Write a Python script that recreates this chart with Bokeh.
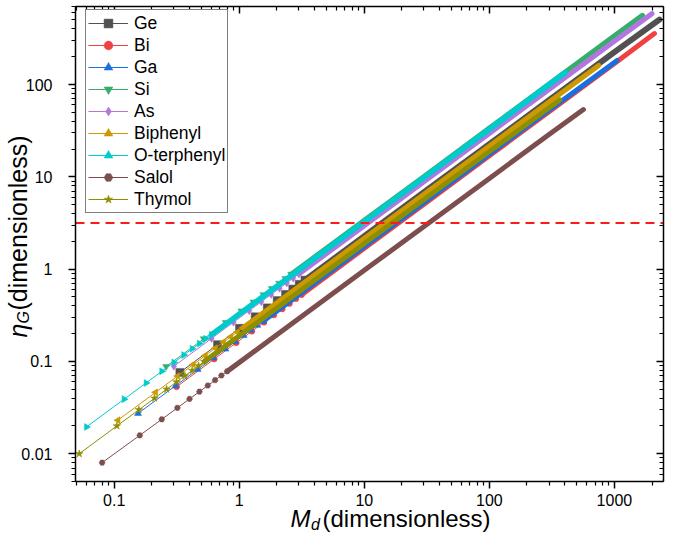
import math
from bokeh.plotting import figure
from bokeh.models import (LogAxis, FixedTicker, CustomJSTickFormatter, Label,
                          Legend, LegendItem, Range1d)
from bokeh.embed import file_html
from bokeh.resources import INLINE

# ---------------- data ----------------
series_names = ["Ge", "Bi", "Ga", "Si", "As", "Biphenyl", "O-terphenyl", "Salol", "Thymol"]

md_ge = [0.335, 0.67, 1.005, 1.34, 1.675, 2.01, 2.345, 2.68, 3.015, 3.35, 10, 30, 100, 300, 1000, 2290]
eta_ge = [0.076, 0.152, 0.228, 0.304, 0.380, 0.456, 0.532, 0.608, 0.684, 0.760, 2.27, 6.8, 22.6, 67.5, 224, 505]

md_bi = [0.315, 0.63, 0.945, 1.26, 1.575, 1.89, 2.205, 2.52, 2.835, 3.15, 10, 30, 100, 300, 1000, 2090]
eta_bi = [0.053, 0.106, 0.159, 0.212, 0.265, 0.318, 0.370, 0.423, 0.476, 0.529, 1.68, 5.05, 16.9, 50.7, 169, 356]

md_ga = [0.155, 0.31, 0.465, 0.62, 0.775, 0.93, 1.085, 1.24, 1.395, 1.55, 10, 30, 100, 300, 1050]
eta_ga = [0.0273, 0.0546, 0.0818, 0.109, 0.136, 0.164, 0.191, 0.218, 0.246, 0.273, 1.76, 5.28, 17.6, 52.5, 182]

md_si = [0.26, 0.52, 0.78, 1.04, 1.3, 1.56, 1.82, 2.08, 2.34, 2.6, 10, 30, 100, 300, 1000, 1675]
eta_si = [0.088, 0.176, 0.264, 0.352, 0.440, 0.528, 0.616, 0.704, 0.792, 0.880, 3.38, 10.1, 33.8, 101, 337, 562]

md_as = [0.3, 0.6, 0.9, 1.2, 1.5, 1.8, 2.1, 2.4, 2.7, 3.0, 10, 30, 100, 300, 1000, 1998]
eta_as = [0.0885, 0.177, 0.266, 0.354, 0.443, 0.531, 0.620, 0.708, 0.797, 0.885, 2.95, 8.85, 29.5, 88.3, 294, 586]

md_biphenyl = [0.107, 0.214, 0.321, 0.428, 0.535, 0.642, 0.749, 0.856, 0.963, 1.07, 10, 30, 100, 300, 749]
eta_biphenyl = [0.0231, 0.0462, 0.0693, 0.0924, 0.116, 0.139, 0.162, 0.185, 0.208, 0.231, 2.16, 6.48, 21.6, 64.6, 161]

md_oterphenyl = [0.06, 0.12, 0.18, 0.24, 0.3, 0.36, 0.42, 0.48, 0.54, 0.6, 10, 30, 100, 405]
eta_oterphenyl = [0.0195, 0.039, 0.0585, 0.078, 0.0975, 0.117, 0.137, 0.156, 0.176, 0.195, 3.27, 9.8, 32.8, 135]

md_salol = [0.08, 0.16, 0.24, 0.32, 0.4, 0.48, 0.56, 0.64, 0.72, 0.8, 10, 30, 100, 300, 565]
eta_salol = [0.008, 0.0158, 0.0236, 0.0314, 0.0392, 0.047, 0.0548, 0.0626, 0.0704, 0.078, 0.97, 2.9, 9.6, 28.7, 53.5]

md_thymol = [0.0525, 0.105, 0.1575, 0.21, 0.2625, 0.315, 0.3675, 0.42, 0.4725, 0.525, 10, 30, 100, 365]
eta_thymol = [0.00998, 0.0200, 0.0299, 0.0399, 0.0499, 0.0599, 0.0698, 0.0798, 0.0898, 0.0998, 1.89, 5.67, 18.8, 68]

eta_threshold = 3.16

# axis extents of the plotting box
x_lo, x_hi = 0.049, 2470
y_lo, y_hi = 0.005, 700

x_ticks = [0.1, 1, 10, 100, 1000]
x_tick_labels = ["0.1", "1", "10", "100", "1000"]
y_ticks = [0.01, 0.1, 1, 10, 100]
y_tick_labels = ["0.01", "0.1", "1", "10", "100"]

md_values = [md_ge, md_bi, md_ga, md_si, md_as, md_biphenyl, md_oterphenyl, md_salol, md_thymol]
eta_values = [eta_ge, eta_bi, eta_ga, eta_si, eta_as, eta_biphenyl, eta_oterphenyl, eta_salol, eta_thymol]

# ---------------- layout / styles ----------------
W, H = 683, 540
box_left, box_right, box_top, box_bottom = 75, 663, 6, 481   # pixel box of the axes

colors = ["#515151", "#F14040", "#1A6FDF", "#37AD6B", "#B177DE", "#CC9900", "#00CBCC", "#7D4E4E", "#8E8E00"]
markers = ["square", "circle", "triangle", "inverted_triangle", "diamond", "triangle", "triangle", "hex", "star"]
angles = [0, 0, 0, 0, 0, math.pi / 2, -math.pi / 2, 0, 0]
msizes = [8, 6, 7, 7, 8, 7, 7, 6, 8]
band_w = [6, 5, 5, 5, 5, 5, 5.5, 5, 5]
dense_from = 9
FONT = "Liberation Sans"

# the frame fills the whole canvas; ranges are widened so that the
# axes box (drawn by fixed-location axes) sits where the reference has it
lx0, lx1 = math.log10(x_lo), math.log10(x_hi)
ly0, ly1 = math.log10(y_lo), math.log10(y_hi)
px_x = (box_right - box_left) / (lx1 - lx0)
px_y = (box_bottom - box_top) / (ly1 - ly0)
xr = Range1d(10 ** (lx0 - box_left / px_x), 10 ** (lx1 + (W - box_right) / px_x))
yr = Range1d(10 ** (ly0 - (H - box_bottom) / px_y), 10 ** (ly1 + box_top / px_y))

p = figure(width=W, height=H, x_axis_type="log", y_axis_type="log",
           x_range=xr, y_range=yr, output_backend="svg", toolbar_location=None,
           min_border=0, min_border_left=0, min_border_right=0,
           min_border_top=0, min_border_bottom=0)
p.xgrid.visible = False
p.ygrid.visible = False
p.outline_line_color = None
p.background_fill_color = "white"
p.border_fill_color = "white"


def minor_list(lo, hi):
    return [m * 10.0 ** e for e in range(lo, hi) for m in range(2, 10)]


fmt_code = """
for (let i = 0; i < tv.length; i++) {
  if (Math.abs(Math.log10(tick) - Math.log10(tv[i])) < 1e-6) return tl[i];
}
return '';
"""


def style_axis(ax, ticks, labels, minors, bounds, loc, inward=False):
    ax.ticker = FixedTicker(ticks=ticks, minor_ticks=minors)
    ax.bounds = bounds
    ax.fixed_location = loc
    ax.axis_line_width = 1.5
    ax.axis_line_color = "black"
    ax.major_tick_line_width = 1.5
    ax.minor_tick_line_width = 1.2
    ax.major_tick_line_color = "black"
    ax.minor_tick_line_color = "black"
    if inward:
        ax.formatter = CustomJSTickFormatter(code="return '';")
        ax.major_tick_in = 7
        ax.major_tick_out = 0
        ax.minor_tick_in = 4
        ax.minor_tick_out = 0
        ax.major_label_standoff = 0
    else:
        ax.formatter = CustomJSTickFormatter(args=dict(tv=ticks, tl=labels), code=fmt_code)
        ax.major_tick_in = 0
        ax.major_tick_out = 7
        ax.minor_tick_in = 0
        ax.minor_tick_out = 4
        ax.major_label_text_font = FONT
        ax.major_label_text_font_size = "16px"
        ax.major_label_text_color = "black"


x_minor = [v for v in minor_list(-2, 4) if x_lo <= v <= x_hi]
y_minor = [v for v in minor_list(-3, 3) if y_lo <= v <= y_hi]

style_axis(p.xaxis[0], x_ticks, x_tick_labels, x_minor, (x_lo, x_hi), y_lo)
p.xaxis[0].major_label_standoff = 5
style_axis(p.yaxis[0], y_ticks, y_tick_labels, y_minor, (y_lo, y_hi), x_lo)
p.yaxis[0].major_label_standoff = 16

top_ax = LogAxis()
style_axis(top_ax, x_ticks, x_tick_labels, x_minor, (x_lo, x_hi), y_hi, inward=True)
p.add_layout(top_ax, "above")
right_ax = LogAxis()
style_axis(right_ax, y_ticks, y_tick_labels, y_minor, (y_lo, y_hi), x_hi, inward=True)
p.add_layout(right_ax, "right")

items = []
for i, name in enumerate(series_names):
    xs, ys, c = md_values[i], eta_values[i], colors[i]
    lr = p.line(xs, ys, line_color=c, line_width=1)
    p.line(xs[dense_from:], ys[dense_from:], line_color=c, line_width=band_w[i], line_cap="round")
    sr = p.scatter(xs[:dense_from + 1], ys[:dense_from + 1], marker=markers[i], size=msizes[i],
                   angle=angles[i], fill_color=c, line_color=c, line_width=0.5)
    items.append(LegendItem(label=name, renderers=[lr, sr]))

# red dashed threshold line across the axes box
p.line([x_lo, x_hi], [eta_threshold, eta_threshold], line_color="#FF1A1A",
       line_dash="9 6", line_width=2)

legend = Legend(items=items, location=(85, H - 213), padding=2, spacing=0, margin=0,
                glyph_width=40, glyph_height=22, label_height=22, label_standoff=6,
                label_text_font=FONT, label_text_font_size="17.5px", label_text_color="black",
                border_line_color="black", border_line_width=1, background_fill_alpha=1)
p.add_layout(legend)


def title_piece(x, y_from_top, text, size, italic=False, angle=0.0):
    return Label(x=x, y=H - y_from_top, x_units="screen", y_units="screen", text=text, angle=angle,
                 text_font=FONT, text_font_style="italic" if italic else "normal",
                 text_font_size=size, text_color="black",
                 text_baseline="middle", text_align="left")


# axis titles built from real text pieces (italic symbol + subscript + unit)
for lab in [title_piece(290, 518, "M", "24px", True),
            title_piece(310.5, 524, "d", "16px", True),
            title_piece(322, 518, "(dimensionless)", "24px"),
            title_piece(17, 337, "η", "25px", True, math.pi / 2),
            title_piece(23, 323, "G", "16px", True, math.pi / 2),
            title_piece(17, 310, "(dimensionless)", "25px", False, math.pi / 2)]:
    p.add_layout(lab)

open("out.html", "w").write(file_html(p, INLINE))
